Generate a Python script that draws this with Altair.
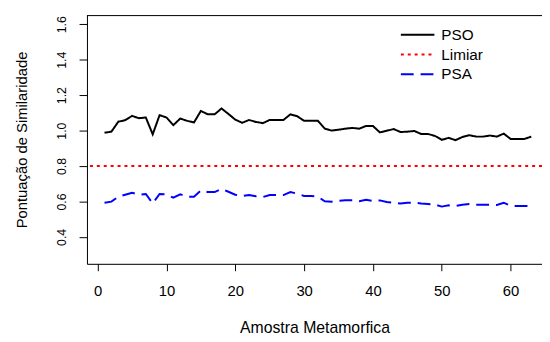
import altair as alt
import pandas as pd

# ---- data ----
amostra = list(range(1, 64))
pso = [0.988, 0.994, 1.050, 1.059, 1.083, 1.070, 1.074, 0.979, 1.087, 1.074,
       1.031, 1.068, 1.055, 1.046, 1.111, 1.092, 1.092, 1.125, 1.094, 1.062,
       1.044, 1.060, 1.049, 1.042, 1.060, 1.060, 1.060, 1.092, 1.081, 1.055,
       1.055, 1.055, 1.011, 1.000, 1.005, 1.011, 1.015, 1.011, 1.026, 1.026,
       0.990, 0.999, 1.009, 0.992, 0.994, 0.998, 0.981, 0.981, 0.970, 0.948,
       0.959, 0.946, 0.964, 0.974, 0.966, 0.966, 0.972, 0.966, 0.983, 0.953,
       0.953, 0.953, 0.966]
psa = [0.593, 0.599, 0.627, 0.638, 0.649, 0.638, 0.642, 0.589, 0.642, 0.640,
       0.621, 0.640, 0.627, 0.627, 0.662, 0.653, 0.653, 0.671, 0.655, 0.638,
       0.631, 0.636, 0.629, 0.625, 0.636, 0.636, 0.636, 0.653, 0.644, 0.631,
       0.631, 0.627, 0.601, 0.599, 0.603, 0.607, 0.607, 0.601, 0.610, 0.603,
       0.606, 0.597, 0.593, 0.589, 0.593, 0.593, 0.589, 0.586, 0.582, 0.571,
       0.578, 0.575, 0.582, 0.586, 0.582, 0.582, 0.582, 0.580, 0.593, 0.575,
       0.575, 0.575, 0.575]
limiar = 0.8
series = ["PSO", "Limiar", "PSA"]
colors = ["#000000", "#ff0000", "#0000ff"]
dashes = [[1, 0], [3, 4], [13, 7]]
x_ticks = [0, 10, 20, 30, 40, 50, 60]
y_ticks = [0.4, 0.6, 0.8, 1.0, 1.2, 1.4, 1.6]

W, H = 461, 252
FONT = "Liberation Sans"

lines_df = pd.DataFrame({
    "Amostra": amostra * 2,
    "Valor": pso + psa,
    "Serie": ["PSO"] * len(pso) + ["PSA"] * len(psa),
})
thr_df = pd.DataFrame({"Valor": [limiar], "Serie": ["Limiar"]})

color_scale = alt.Scale(domain=series, range=colors)
dash_scale = alt.Scale(domain=series, range=dashes)

xs = alt.Scale(domain=[-1.55, 64.56], nice=False, zero=False)
ys = alt.Scale(domain=[0.248, 1.652], nice=False, zero=False)

x_axis = alt.Axis(
    values=x_ticks, title="Amostra Metamorfica", grid=False,
    tickSize=7, labelPadding=20, labelFontSize=15, labelFont=FONT,
    labelBaseline="middle",
    titleFont=FONT, titleFontSize=16, titleFontWeight="normal",
    titleY=65, titleBaseline="middle",
    labelColor="#000000", titleColor="#000000",
    domainColor="#000000", tickColor="#000000",
)
y_axis = alt.Axis(
    values=y_ticks, format=".1f", title="Pontuação de Similaridade", grid=False,
    tickSize=8, labelPadding=18, labelAngle=270, labelAlign="center",
    labelBaseline="middle", labelFontSize=12.5, labelFont=FONT,
    titleFont=FONT, titleFontSize=15, titleFontWeight="normal",
    titleX=-66, titleBaseline="middle",
    labelColor="#000000", titleColor="#000000",
    domainColor="#000000", tickColor="#000000",
)

lines = alt.Chart(lines_df).mark_line(strokeWidth=2, clip=True).encode(
    x=alt.X("Amostra:Q", scale=xs, axis=x_axis),
    y=alt.Y("Valor:Q", scale=ys, axis=y_axis),
    color=alt.Color("Serie:N", scale=color_scale, legend=None),
    strokeDash=alt.StrokeDash("Serie:N", scale=dash_scale, legend=None),
)

thr = alt.Chart(thr_df).mark_rule(strokeWidth=2).encode(
    y=alt.Y("Valor:Q", scale=ys),
    color=alt.Color("Serie:N", scale=color_scale, legend=None),
    strokeDash=alt.StrokeDash("Serie:N", scale=dash_scale, legend=None),
)

top_border = alt.Chart(thr_df).mark_rule(color="#000000", strokeWidth=1).encode(
    x=alt.value(0), x2=alt.value(W), y=alt.value(0.5)
)

# manual legend (R style, no box)
leg_layers = []
for i, (name, col, dash) in enumerate(zip(series, colors, dashes)):
    row_y = 20 + 20 * i
    ldf = pd.DataFrame({"Serie": [name]})
    leg_layers.append(
        alt.Chart(ldf).mark_rule(color=col, strokeWidth=2, strokeDash=dash).encode(
            x=alt.value(318), x2=alt.value(352), y=alt.value(row_y)
        )
    )
    leg_layers.append(
        alt.Chart(ldf).mark_text(
            font=FONT, fontSize=15.5, color="#000000", align="left", baseline="middle"
        ).encode(x=alt.value(359), y=alt.value(row_y), text="Serie:N")
    )

chart = alt.layer(lines, thr, top_border, *leg_layers).properties(
    width=W, height=H,
    autosize=alt.AutoSizeParams(type="none"),
    padding={"left": 80, "top": 5, "right": 0, "bottom": 76},
).configure_view(stroke=None).configure(background="#ffffff")

chart.save("out.html", embed_options={"renderer": "svg", "actions": False})
